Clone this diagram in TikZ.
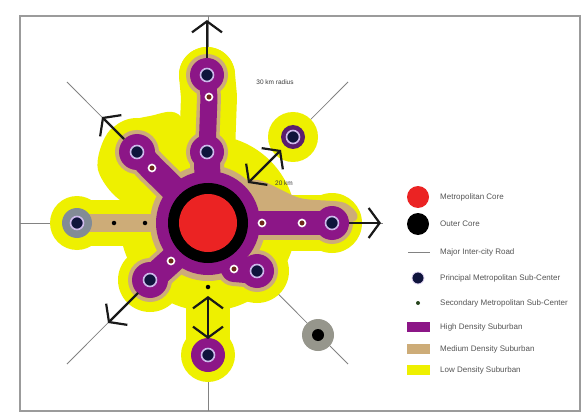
\documentclass[tikz,border=0pt]{standalone}
\usepackage{fontspec}
\setmainfont{Liberation Sans}
\usetikzlibrary{arrows.meta}
\definecolor{ylw}{RGB}{238,240,0}
\definecolor{medtan}{RGB}{205,172,120}
\definecolor{hipurple}{RGB}{140,22,135}
\definecolor{corered}{RGB}{235,35,35}
\definecolor{navy}{RGB}{15,20,60}
\definecolor{lav}{RGB}{205,185,235}
\definecolor{roadgray}{RGB}{130,130,130}
\definecolor{txtgray}{RGB}{85,85,85}
\definecolor{secfill}{RGB}{110,40,25}
\definecolor{arrowblack}{RGB}{25,25,25}
\definecolor{halogray}{RGB}{150,150,140}
\definecolor{halobluegray}{RGB}{130,140,150}
\definecolor{darkpurple}{RGB}{90,30,110}
\begin{document}
\begin{tikzpicture}[x=1pt,y=-1pt,
  yband/.style={draw=ylw, line width=56pt, line cap=round, line join=round},
  tband/.style={draw=medtan, line width=34pt, line cap=round, line join=round},
  pband/.style={draw=hipurple, line width=24pt, line cap=round, line join=round},
  principal/.style={circle, fill=navy, draw=lav, line width=1.6pt, minimum size=13pt, inner sep=0pt},
  secondary/.style={circle, fill=secfill, draw=white, line width=1.6pt, minimum size=7pt, inner sep=0pt},
  minor/.style={circle, fill=black, minimum size=4.5pt, inner sep=0pt},
  barb/.tip={Straight Barb[length=11pt,width=30pt]},
  arrowline/.style={draw=arrowblack, line width=2.2pt, -barb},
  twoway/.style={draw=arrowblack, line width=2.2pt, barb-barb},
  road/.style={draw=roadgray, line width=0.8pt},
  legendtext/.style={anchor=west, text=txtgray, font=\fontsize{8}{9}\selectfont, inner sep=0pt},
  maplabel/.style={text=txtgray!70!black, font=\fontsize{6.5}{7}\selectfont, inner sep=0pt}]
\useasboundingbox (0,0) rectangle (583,414);
\fill[white] (0,0) rectangle (583,414);
\draw[roadgray!80, line width=1.2pt] (20,16) rectangle (580,411);

% centres
\coordinate (C) at (208,223);
\coordinate (T1) at (207,152);
\coordinate (T2) at (209,97);
\coordinate (T3) at (207,75);
\coordinate (N1) at (152,168);
\coordinate (N2) at (137,152);
\coordinate (R1) at (262,223);
\coordinate (R2) at (302,223);
\coordinate (R3) at (332,223);
\coordinate (S1) at (171,261);
\coordinate (S2) at (150,280);
\coordinate (E1) at (234,269);
\coordinate (E2) at (257,271);
\coordinate (L1) at (145,223);
\coordinate (L2) at (114,223);
\coordinate (L3) at (77,223);
\coordinate (B1) at (208,287);
\coordinate (B2) at (208,355);
\coordinate (Q) at (293,137);
\coordinate (P) at (318,335);
% road ends
\coordinate (rdTop) at (208,16);
\coordinate (rdBot) at (208,411);
\coordinate (rdL) at (20,223);
\coordinate (rdR) at (383,223);
\coordinate (rdNW) at (67,82);
\coordinate (rdNE) at (348,82);
\coordinate (rdSW) at (67,364);
\coordinate (rdSE) at (348,364);

% roads
\draw[road] (rdTop) -- (rdBot);
\draw[road] (rdL) -- (rdR);
\draw[road] (rdNW) -- (rdSE);
\draw[road] (rdNE) -- (rdSW);

% low density (yellow)
\fill[ylw] (C) circle[radius=88];
\fill[ylw] plot[smooth cycle] coordinates {(182,118) (150,116) (110,130) (98,170) (130,205) (208,200)};
\draw[yband] (C) -- (T1) -- (T2) -- (T3);
\draw[yband] (C) -- (N2);
\draw[yband] (C) -- (R3);
\draw[yband] (C) -- (S2);
\draw[yband] (C) -- (E2);
\draw[yband, line width=46pt] (C) -- (L3);
\draw[yband, line width=44pt] (C) -- (B2);
\fill[ylw] (T3) circle[radius=28];
\fill[ylw] (N2) circle[radius=34];
\fill[ylw] (R3) circle[radius=30];
\fill[ylw] (S2) circle[radius=32];
\fill[ylw] (E2) circle[radius=32];
\fill[ylw] (L3) circle[radius=27];
\fill[ylw] (Q) circle[radius=25];
\fill[ylw] (B2) circle[radius=27];

% medium density (tan)
\fill[medtan] (C) circle[radius=58];
\fill[medtan] plot[smooth cycle] coordinates {(228,188) (258,180) (300,198) (345,203) (352,222) (250,230)};
\draw[tband] (C) -- (T1);
\draw[tband, line width=24pt] (T1) -- (T2) -- (T3);
\draw[tband] (C) -- (N1) -- (N2);
\draw[tband] (C) -- (R3);
\draw[tband] (C) -- (S1) -- (S2);
\draw[tband] (C) -- (E1) -- (E2);
\draw[tband, line width=18pt] (C) -- (L3);
\fill[medtan] (T3) circle[radius=21];
\fill[medtan] (T1) circle[radius=21];
\fill[medtan] (N2) circle[radius=22];
\fill[medtan] (R3) circle[radius=21];
\fill[medtan] (S2) circle[radius=22];
\fill[medtan] (E2) circle[radius=21];

% high density (purple)
\fill[hipurple] (C) circle[radius=52];
\draw[pband, line width=26pt] (C) -- (T1);
\draw[pband, line width=17pt] (T1) -- (T2) -- (T3);
\draw[pband, line width=26pt] (C) -- (N1) -- (N2);
\draw[pband] (C) -- (R3);
\draw[pband, line width=26pt] (C) -- (S1) -- (S2);
\draw[pband, line width=26pt] (C) -- (E1) -- (E2);
\fill[hipurple] (T3) circle[radius=17];
\fill[hipurple] (T1) circle[radius=17];
\fill[hipurple] (N2) circle[radius=18];
\fill[hipurple] (R3) circle[radius=17];
\fill[hipurple] (S2) circle[radius=18];
\fill[hipurple] (E2) circle[radius=17];
\fill[hipurple] (B2) circle[radius=17];
\fill[darkpurple] (Q) circle[radius=12];
\fill[halobluegray] (L3) circle[radius=15];
\fill[halogray] (P) circle[radius=16];

% core
\fill[black] (C) circle[radius=40];
\fill[corered] (C) circle[radius=29];

% arrows
\coordinate (upS) at (207,58);
\coordinate (upE) at (207,20);
\coordinate (nwS) at (124,139);
\coordinate (nwE) at (102,117);
\coordinate (neS) at (248,183);
\coordinate (neE) at (281,150);
\coordinate (rtS) at (349,223);
\coordinate (rtE) at (381,223);
\coordinate (swS) at (138,293);
\coordinate (swE) at (108,323);
\coordinate (dnS) at (208,296);
\coordinate (dnE) at (208,339);
\draw[arrowline] (upS) -- (upE);
\draw[arrowline] (nwS) -- (nwE);
\draw[twoway] (neS) -- (neE);
\draw[arrowline] (rtS) -- (rtE);
\draw[arrowline] (swS) -- (swE);
\draw[twoway] (dnS) -- (dnE);

% sub-centres
\node[principal] (t1) at (T1) {};
\node[principal] (t3) at (T3) {};
\node[principal] (n2) at (N2) {};
\node[principal] (r3) at (R3) {};
\node[principal] (s2) at (S2) {};
\node[principal] (e2) at (E2) {};
\node[principal] (l3) at (L3) {};
\node[principal] (b2) at (B2) {};
\node[principal] (q) at (Q) {};
\node[circle, fill=black, minimum size=12pt, inner sep=0pt] (p) at (P) {};
\node[secondary] (t2) at (T2) {};
\node[secondary] (n1) at (N1) {};
\node[secondary] (r1) at (R1) {};
\node[secondary] (r2) at (R2) {};
\node[secondary] (s1) at (S1) {};
\node[secondary] (e1) at (E1) {};
\node[minor] (l1) at (L1) {};
\node[minor] (l2) at (L2) {};
\node[minor] (b1) at (B1) {};

% map labels
\node[maplabel] (radlab) at (275,82) {30 km radius};
\node[maplabel] (kmlab) at (284,183) {20 km};

% legend
\node[circle, fill=corered, minimum size=22pt, inner sep=0pt] (lgcore) at (418,197) {};
\node[legendtext] (lgcoret) at (440,197) {Metropolitan Core};
\node[circle, fill=black, minimum size=22pt, inner sep=0pt] (lgouter) at (418,224) {};
\node[legendtext] (lgoutert) at (440,224) {Outer Core};
\coordinate (lgrdA) at (408,252);
\coordinate (lgrdB) at (430,252);
\draw[road] (lgrdA) -- (lgrdB);
\node[legendtext] (lgroadt) at (440,252) {Major Inter-city Road};
\node[circle, fill=navy, draw=lav!60, line width=0.8pt, minimum size=12pt, inner sep=0pt] (lgprin) at (418,278) {};
\node[legendtext] (lgprint) at (440,278) {Principal Metropolitan Sub-Center};
\node[circle, fill={rgb,255:red,40;green,70;blue,30}, minimum size=4pt, inner sep=0pt] (lgsec) at (418,303) {};
\node[legendtext] (lgsect) at (440,303) {Secondary Metropolitan Sub-Center};
\node[fill=hipurple, minimum width=23pt, minimum height=10pt, inner sep=0pt] (lghigh) at (418.5,327) {};
\node[legendtext] (lghight) at (440,327) {High Density Suburban};
\node[fill=medtan, minimum width=23pt, minimum height=10pt, inner sep=0pt] (lgmed) at (418.5,349) {};
\node[legendtext] (lgmedt) at (440,349) {Medium Density Suburban};
\node[fill=ylw, minimum width=23pt, minimum height=10pt, inner sep=0pt] (lglow) at (418.5,370) {};
\node[legendtext] (lglowt) at (440,370) {Low Density Suburban};
\end{tikzpicture}
\end{document}
